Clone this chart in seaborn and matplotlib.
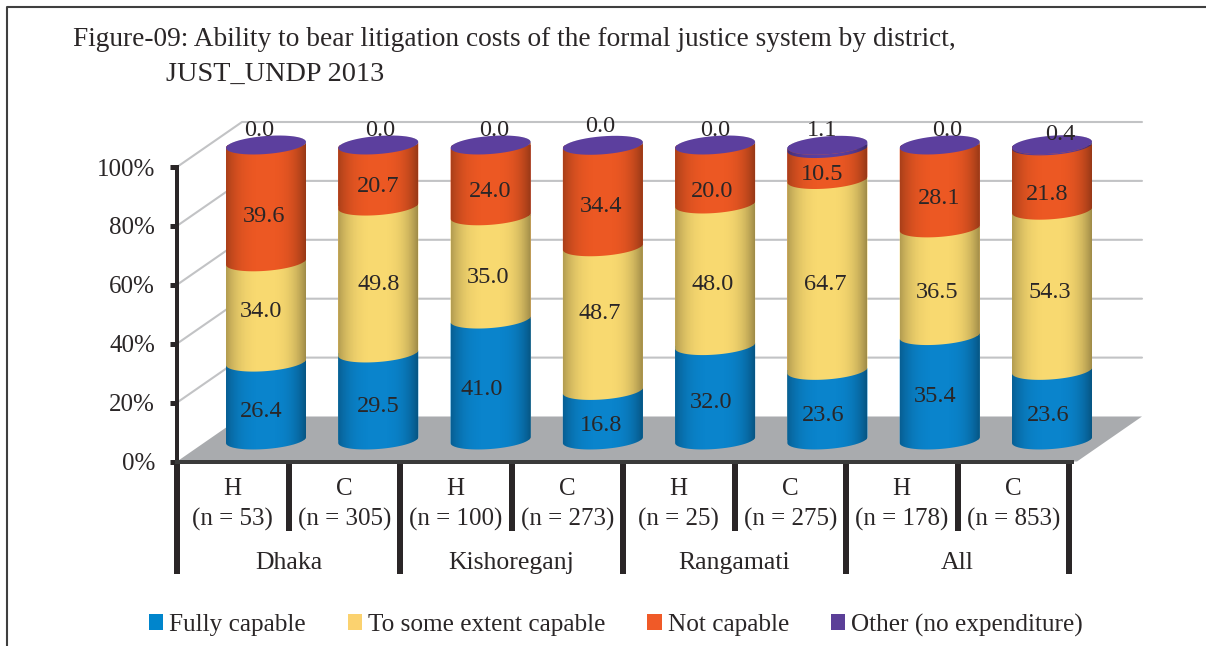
import numpy as np
import pandas as pd
import matplotlib
matplotlib.use("Agg")
import matplotlib.pyplot as plt
from matplotlib.patches import Patch, Polygon
from matplotlib.path import Path
from matplotlib.transforms import blended_transform_factory
import seaborn as sns

# ---- data -----------------------------------------------------------------
districts = ["Dhaka", "Kishoreganj", "Rangamati", "All"]
groups = ["H", "C", "H", "C", "H", "C", "H", "C"]
sample_sizes = [53, 305, 100, 273, 25, 275, 178, 853]
series_names = ["Fully capable", "To some extent capable", "Not capable",
                "Other (no expenditure)"]
fully_capable = [26.4, 29.5, 41.0, 16.8, 32.0, 23.6, 35.4, 23.6]
some_extent = [34.0, 49.8, 35.0, 48.7, 48.0, 64.7, 36.5, 54.3]
not_capable = [39.6, 20.7, 24.0, 34.4, 20.0, 10.5, 28.1, 21.8]
other = [0.0, 0.0, 0.0, 0.0, 0.0, 1.1, 0.0, 0.4]
percent_ticks = [0, 20, 40, 60, 80, 100]

# ---- styling --------------------------------------------------------------
series_colors = ["#0A84CC", "#F8D970", "#EC5823", "#5C3F9E"]
ink = "#2A2627"
label_dx = [[-5, 0, -9, -2, -4, -4, -5, -4],
            [-5, 0, -3, -3, -3, -2, -3, -2],
            [-2, 0, 0, -2, -3, -5, -1, -5],
            [-7, 2, 4, -3, 0, -5, 7, 8]]
label_dy = [[10, 10, 10, 10, 10, 10, 9, 10],
            [0, 5, 10, -5, 10, 10, 11, 2],
            [13, 11, 11, 10, 17, 10, 12, 16]]
other_label_y = [131, 131, 131, 126, 131, 131, 131, 134]

sns.set_theme(style="white")
plt.rcParams["font.family"] = ["Liberation Serif", "DejaVu Serif"]

W, H = 1206, 646
fig = plt.figure(figsize=(W / 100, H / 100), dpi=100, facecolor="white")


def pixel_axes(left, top, right, bottom, **kw):
    return fig.add_axes([left / W, 1 - bottom / H, (right - left) / W,
                         (bottom - top) / H], **kw)


# Backdrop in pixel units: frame, floor, back-wall grid and side-wall lines.
canvas = pixel_axes(0, 0, W, H, zorder=0)
canvas.set_xlim(0, W)
canvas.set_ylim(H, 0)
canvas.axis("off")
canvas.plot([7, 7, W], [H, 7, 7], color="#3F3F3F", lw=1.5)

FRONT_L, FRONT_R, FRONT_BOTTOM, FRONT_TOP = 177, 1069, 461.5, 167
BACK_L, BACK_R, DEPTH_Y = 242, 1142, 45
canvas.add_patch(Polygon([(FRONT_L, FRONT_BOTTOM), (1077, FRONT_BOTTOM),
                          (BACK_R, FRONT_BOTTOM - DEPTH_Y),
                          (BACK_L, FRONT_BOTTOM - DEPTH_Y)],
                         closed=True, facecolor="#A9ABAE", edgecolor="none"))
for v in percent_ticks[1:]:
    y = FRONT_BOTTOM - (FRONT_BOTTOM - FRONT_TOP) * v / 100
    canvas.plot([FRONT_L, BACK_L, BACK_R], [y, y - DEPTH_Y, y - DEPTH_Y],
                color="#C2C3C5", lw=1.5, solid_joinstyle="miter")

# Front axis frame with the two-level category ticks.
ax = pixel_axes(FRONT_L, FRONT_TOP, FRONT_R, FRONT_BOTTOM, zorder=1)
ax.patch.set_alpha(0)
ax.set_xlim(-0.5, 7.5)
ax.set_ylim(0, 100)
ax.set_yticks(percent_ticks, [f"{v}%" for v in percent_ticks])
ax.set_xticks(np.arange(-0.5, 8, 2), [""] * 5)
ax.set_xticks(np.arange(0.5, 7, 2), minor=True)
px = 0.72
ax.tick_params(axis="y", length=7 * px, width=5 * px, color=ink, labelsize=18,
               labelcolor=ink, pad=15 * px, left=True)
ax.tick_params(axis="x", which="major", length=112 * px, width=6 * px, color=ink,
               bottom=True)
ax.tick_params(axis="x", which="minor", length=69 * px, width=6 * px, color=ink,
               bottom=True)
for side in ("top", "right"):
    ax.spines[side].set_visible(False)
ax.spines["left"].set_linewidth(4 * px)
ax.spines["left"].set_color(ink)
ax.spines["bottom"].set_linewidth(4 * px)
ax.spines["bottom"].set_color("#3A3A3A")
ax.spines["bottom"].set_bounds(-0.5, 7.53)

x_text = blended_transform_factory(ax.transData, canvas.transData)
for i, (g, n) in enumerate(zip(groups, sample_sizes)):
    ax.text(i, 489, g, transform=x_text, ha="center", va="center",
            fontsize=18, color=ink)
    ax.text(i, 519, f"(n = {n})", transform=x_text, ha="center", va="center",
            fontsize=18, color=ink)
for k, d in enumerate(districts):
    ax.text(0.5 + 2 * k, 563, d, transform=x_text, ha="center", va="center",
            fontsize=18.5, color=ink)

# Cylinders sit half-way back on the floor, in their own axes.
SX, SY = 112.3, 2.95
A, B, TILT = 40.0, 9.0, 3.0
BAR_W = 2 * A / SX
bars = pixel_axes(266 - SX / 2, 145, 1052 + SX / 2, 440, zorder=2)
bars.patch.set_alpha(0)

names = [f"{g} (n = {n})" for g, n in zip(groups, sample_sizes)]
table = pd.DataFrame({"group": names, series_names[0]: fully_capable,
                      series_names[1]: some_extent, series_names[2]: not_capable,
                      series_names[3]: other})
cumulative = table[series_names].cumsum(axis=1)
cumulative["group"] = names
for name, color in reversed(list(zip(series_names, series_colors))):
    sns.barplot(data=cumulative, x="group", y=name, color=color, saturation=1,
                width=BAR_W, edgecolor="none", ax=bars)
bars.set_xlim(-0.5, 7.5)
bars.set_ylim(0, 100)
bars.axis("off")


def arc(i, v, t0, t1):
    t = np.linspace(t0, t1, 48)
    return np.column_stack([i + A * np.cos(t) / SX,
                            v + (B * np.sin(t) + TILT * np.cos(t)) / SY])


totals = cumulative[series_names[-1]].to_numpy()
silhouettes = []
for i, top in enumerate(totals):
    silhouettes.append(Path(np.vstack([arc(i, 0, np.pi, 2 * np.pi),
                                       arc(i, top, 0, np.pi)])))

# Flat bar tops are trimmed to the round outline, then the curved faces go on.
for patch in bars.patches:
    i = int(round(patch.get_x() + patch.get_width() / 2))
    patch.set_clip_path(silhouettes[i], bars.transData)

for s, (name, color) in enumerate(zip(series_names, series_colors)):
    hi_values = cumulative[name].to_numpy()
    values = table[name].to_numpy()
    for i, (hi, val) in enumerate(zip(hi_values, values)):
        if val <= 0:
            continue
        lo = hi - val
        face = np.vstack([arc(i, lo, np.pi, 2 * np.pi), arc(i, hi, 2 * np.pi, np.pi)])
        bars.add_patch(Polygon(face, closed=True, facecolor=color, edgecolor="none",
                               clip_on=False, zorder=3))

# Side shading across each cylinder body.
u = np.linspace(-1, 1, 120)
shade = np.zeros((1, u.size, 4))
shade[..., 3] = np.where(u < 0, 0.28, 0.36) * np.abs(u) ** 3
for i, path in enumerate(silhouettes):
    im = bars.imshow(shade, extent=(i - BAR_W / 2, i + BAR_W / 2, -6, 106),
                     aspect="auto", interpolation="bilinear", zorder=4)
    im.set_clip_box(fig.bbox)
    im.set_clip_path(path, bars.transData)
    bars.add_patch(Polygon(arc(i, totals[i], 0, 2 * np.pi), closed=True,
                           facecolor=series_colors[3], edgecolor="none",
                           clip_on=False, zorder=5))
bars.set_xlim(-0.5, 7.5)
bars.set_ylim(0, 100)

# Value labels.
stack_series = [fully_capable, some_extent, not_capable]
lows = np.zeros(8)
for s, vals in enumerate(stack_series):
    for i, val in enumerate(vals):
        bars.annotate(f"{val:.1f}", xy=(i, lows[i] + val / 2),
                      xytext=(label_dx[s][i] * px, -label_dy[s][i] * px),
                      textcoords="offset points", ha="center", va="center",
                      fontsize=17.5, color=ink, zorder=6, annotation_clip=False)
    lows += np.array(vals)
y_text = blended_transform_factory(bars.transData, canvas.transData)
for i, val in enumerate(other):
    bars.annotate(f"{val:.1f}", xy=(i, other_label_y[i]), xycoords=y_text,
                  xytext=(label_dx[3][i] * px, 0), textcoords="offset points",
                  ha="center", va="center", fontsize=17.5, color=ink, zorder=6,
                  annotation_clip=False)

# Title and legend.
canvas.text(73, 39, "Figure-09: Ability to bear litigation costs of the formal "
            "justice system by district,", fontsize=19.75, color=ink, va="center")
canvas.text(166, 74, "JUST_UNDP 2013", fontsize=20.3, color=ink, va="center")

handles = [Patch(facecolor=c, edgecolor="none") for c in
           ["#0085CC", "#FBD26F", "#F05A28", "#5B3F98"]]
fig.legend(handles, series_names, ncol=4, frameon=False, fontsize=18.2,
           labelcolor=ink, loc="center", bbox_to_anchor=(616 / W, 1 - 625 / H),
           handlelength=0.56, handleheight=0.56, handletextpad=0.25, columnspacing=1.65,
           borderpad=0, borderaxespad=0)

fig.savefig("out.png", dpi=100, facecolor="white")
